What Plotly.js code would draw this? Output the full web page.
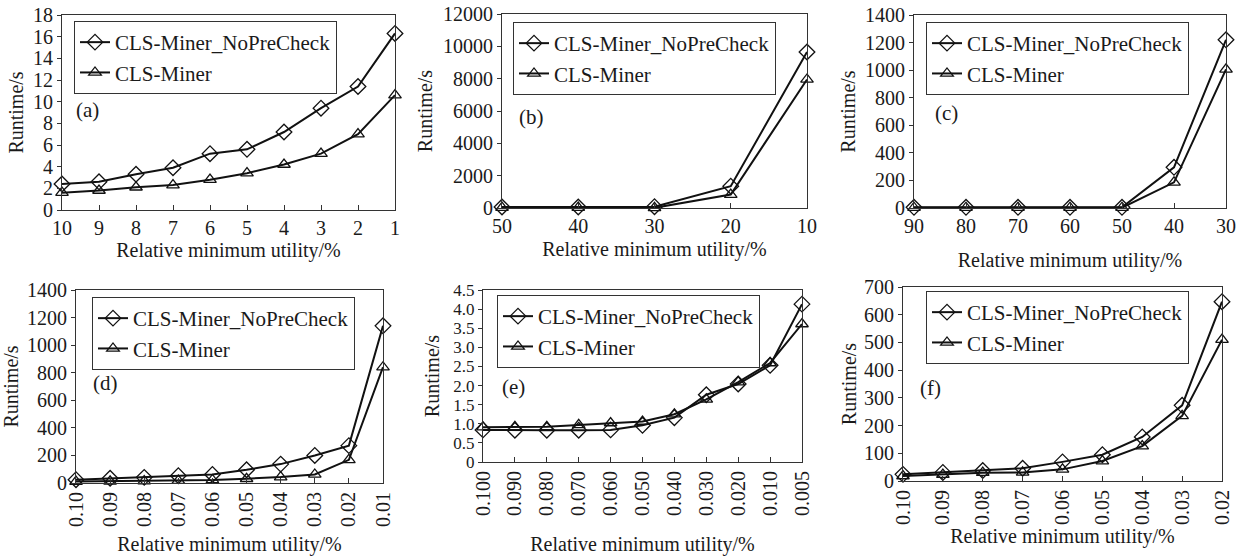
<!DOCTYPE html>
<html><head><meta charset="utf-8">
<script src="https://cdn.plot.ly/plotly-3.0.1.min.js"></script>
<style>html,body{margin:0;padding:0;background:#fff}</style>
</head><body>
<div id="chart" style="width:1250px;height:556px"></div>
<script>
var seriesNames = ['CLS-Miner_NoPreCheck', 'CLS-Miner'];

var catsA = ['10','9','8','7','6','5','4','3','2','1'];
var noA = [2.4,2.6,3.3,3.9,5.2,5.6,7.2,9.4,11.4,16.3];
var clsA = [1.6,1.8,2.1,2.3,2.8,3.4,4.2,5.2,7.0,10.6];

var catsB = ['50','40','30','20','10'];
var noB = [60,60,80,1350,9650];
var clsB = [20,20,10,830,7950];

var catsC = ['90','80','70','60','50','40','30'];
var noC = [5,5,5,5,5,295,1220];
var clsC = [2,2,2,2,2,186,1006];

var catsD = ['0.10','0.09','0.08','0.07','0.06','0.05','0.04','0.03','0.02','0.01'];
var noD = [24,34,41,53,62,96,137,200,271,1140];
var clsD = [10,12,14,17,22,31,43,62,168,840];

var catsE = ['0.100','0.090','0.080','0.070','0.060','0.050','0.040','0.030','0.020','0.010','0.005'];
var noE = [0.84,0.83,0.83,0.83,0.84,0.96,1.16,1.76,2.04,2.53,4.13];
var clsE = [0.91,0.92,0.92,0.97,1.02,1.06,1.25,1.64,2.09,2.59,3.61];

var catsF = ['0.10','0.09','0.08','0.07','0.06','0.05','0.04','0.03','0.02'];
var noF = [24,31,38,46,69,95,159,273,647];
var clsF = [18,23,30,31,42,72,126,235,510];

var tickValsE = [0,0.5,1,1.5,2,2.5,3,3.5,4,4.5];
var tickTextE = ['0','0.5','1.0','1.5','2.0','2.5','3.0','3.5','4.0','4.5'];

var panelLabels = ['(a)','(b)','(c)','(d)','(e)','(f)'];
var yMax = [18, 12000, 1400, 1400, 4.5, 700];
var yDtick = [2, 2000, 200, 200, 0.5, 100];

var W = 1250, H = 556;
// plot areas in pixels: [left, top, right, bottom]
var boxes = [
  [62, 15, 395, 210],
  [502, 14, 807, 208],
  [914, 15, 1226, 208],
  [76, 290, 383, 483],
  [483, 290, 802, 462],
  [903, 287, 1222, 481]
];
var legendPos = [[74,21],[513,22],[926,22],[92,297],[497,295],[926,291]];
var labelPos = [[87,110],[531,117],[946,113],[105,383],[513,387],[930,388]];
var xTitleStandoff = [3, 5, 16, 11, 24, 1];
var yTitleStandoff = [4, 5, 4, 4, 8, 2];
var yTickSize = [20, 20, 20, 20, 17, 20];

var panels = [
  [catsA, noA, clsA], [catsB, noB, clsB], [catsC, noC, clsC],
  [catsD, noD, clsD], [catsE, noE, clsE], [catsF, noF, clsF]
];

var FONT = '"Liberation Serif", "Times New Roman", serif';
var traces = [];
var layout = {
  width: W, height: H,
  margin: {l:0, r:0, t:0, b:0},
  paper_bgcolor: '#fff', plot_bgcolor: '#fff',
  font: {family: FONT, size: 20, color: '#1a1a1a'},
  showlegend: true,
  annotations: []
};

panels.forEach(function(p, i) {
  var n = i + 1;
  var xa = n === 1 ? 'x' : 'x' + n;
  var ya = n === 1 ? 'y' : 'y' + n;
  var lg = n === 1 ? 'legend' : 'legend' + n;
  var b = boxes[i];
  var rotated = i >= 3;
  traces.push({
    x: p[0], y: p[1], xaxis: xa, yaxis: ya, legend: lg,
    name: seriesNames[0], type: 'scatter', mode: 'lines+markers', cliponaxis: false,
    line: {color: '#111', width: 2},
    marker: {symbol: 'diamond-open', size: 12, color: '#111', line: {width: 1.3, color: '#111'}}
  });
  traces.push({
    x: p[0], y: p[2], xaxis: xa, yaxis: ya, legend: lg,
    name: seriesNames[1], type: 'scatter', mode: 'lines+markers', cliponaxis: false,
    line: {color: '#111', width: 2},
    marker: {symbol: 'triangle-up-open', size: 11, color: '#111', line: {width: 1.3, color: '#111'}}
  });
  var xkey = n === 1 ? 'xaxis' : 'xaxis' + n;
  var ykey = n === 1 ? 'yaxis' : 'yaxis' + n;
  layout[xkey] = {
    domain: [b[0]/W, b[2]/W], anchor: ya, type: 'category',
    range: [0, p[0].length - 1],
    showline: true, mirror: true, linecolor: '#333', linewidth: 1,
    ticks: 'inside', ticklen: 5, tickcolor: '#333', showgrid: false, zeroline: false,
    tickangle: rotated ? -90 : 0,
    tickfont: {family: FONT, size: 20, color: '#1a1a1a'},
    title: {text: 'Relative minimum utility/%', font: {family: FONT, size: 20, color: '#1a1a1a'}, standoff: xTitleStandoff[i]},
    automargin: false
  };
  var yax = {
    domain: [1 - b[3]/H, 1 - b[1]/H], anchor: xa,
    range: [0, yMax[i]], dtick: yDtick[i], tick0: 0, tickformat: 'd',
    showline: true, mirror: true, linecolor: '#333', linewidth: 1,
    ticks: 'outside', ticklen: 4, tickcolor: '#333', showgrid: false, zeroline: false,
    tickfont: {family: FONT, size: yTickSize[i], color: '#1a1a1a'},
    title: {text: 'Runtime/s', font: {family: FONT, size: 20, color: '#1a1a1a'}, standoff: yTitleStandoff[i]},
    automargin: false
  };
  if (i === 4) {
    delete yax.tickformat; delete yax.dtick; delete yax.tick0;
    yax.tickmode = 'array'; yax.tickvals = tickValsE; yax.ticktext = tickTextE;
  }
  layout[ykey] = yax;
  layout[lg] = {
    x: legendPos[i][0]/W, y: 1 - legendPos[i][1]/H, xanchor: 'left', yanchor: 'top',
    bgcolor: '#fff', bordercolor: '#333', borderwidth: 1,
    font: {family: FONT, size: 21, color: '#1a1a1a'},
    itemwidth: 30, tracegroupgap: 0
  };
  layout.annotations.push({
    text: panelLabels[i], xref: 'paper', yref: 'paper',
    x: labelPos[i][0]/W, y: 1 - labelPos[i][1]/H, xanchor: 'center', yanchor: 'middle', showarrow: false,
    font: {family: FONT, size: 21, color: '#1a1a1a'}
  });
});

Plotly.newPlot('chart', traces, layout, {staticPlot: true, displayModeBar: false});
</script>
</body></html>
